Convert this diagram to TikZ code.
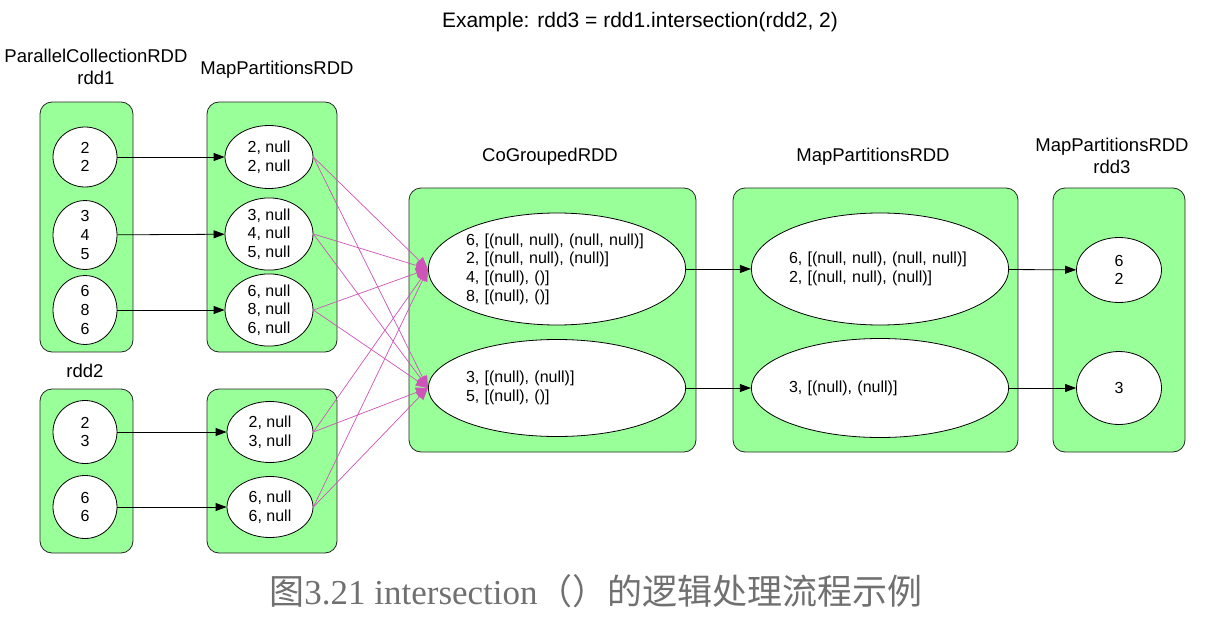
\documentclass[tikz,border=0pt]{standalone}
\usepackage{fontspec}
\setmainfont{Liberation Sans}
\newfontfamily\capserif{Liberation Serif}
\newfontfamily\cjk{Noto Sans CJK SC}
\usetikzlibrary{arrows.meta, shapes.geometric}

\begin{document}
\begin{tikzpicture}[x=1pt,y=-1pt,
  rddbox/.style={draw=black!85, fill=rddgreen, rounded corners=12pt, line width=0.8pt},
  part/.style={ellipse, draw=black, fill=white, inner sep=0pt, align=center, line width=0.8pt, font=\fontsize{16}{18.7}\selectfont},
  bigpart/.style={part, minimum width=251pt, text width=182pt, align=left},
  rddlabel/.style={align=center, font=\fontsize{18.5}{21.5}\selectfont},
  dep/.style={-{Triangle[length=11pt,width=8pt]}, line width=0.8pt, black},
  shuffle/.style={-{Triangle[length=12pt,width=10pt]}, line width=0.7pt, shufflepink}]
  \definecolor{rddgreen}{RGB}{153,255,153}
  \definecolor{shufflepink}{RGB}{206,84,184}
  \definecolor{captiongray}{RGB}{112,112,112}
  \useasboundingbox[fill=white] (0,0) rectangle (1205,621);

  \node[font=\fontsize{21}{24}\selectfont] (title) at (640,22) {Example: rdd3 = rdd1.intersection(rdd2, 2)};

  \draw[rddbox] (40,102) rectangle (133,352);
  \draw[rddbox] (207,102) rectangle (337,352);
  \draw[rddbox] (40,389) rectangle (133,553);
  \draw[rddbox] (207,389) rectangle (337,553);
  \draw[rddbox] (409,188) rectangle (696,452);
  \draw[rddbox] (733,188) rectangle (1018,452);
  \draw[rddbox] (1053,188) rectangle (1185,452);

  \node[rddlabel] (lrddA) at (96,67) {ParallelCollectionRDD\\rdd1};
  \node[rddlabel] (lmapA) at (277,70) {MapPartitionsRDD};
  \node[rddlabel] (lrddB) at (85,371) {rdd2};
  \node[rddlabel] (lcog) at (550,157) {CoGroupedRDD};
  \node[rddlabel] (lmapC) at (873,157) {MapPartitionsRDD};
  \node[rddlabel] (lrddC) at (1112,156) {MapPartitionsRDD\\rdd3};

  \node[part, minimum width=64pt, minimum height=60pt] (a1) at (85,157) {2\\2};
  \node[part, minimum width=64pt, minimum height=66pt] (a2) at (85,235) {3\\4\\5};
  \node[part, minimum width=64pt, minimum height=66pt] (a3) at (85,310) {6\\8\\6};
  \node[part, minimum width=88pt, minimum height=63pt] (ma1) at (269,157) {2, null\\2, null};
  \node[part, minimum width=88pt, minimum height=63pt] (ma2) at (269,234) {3, null\\4, null\\5, null};
  \node[part, minimum width=88pt, minimum height=64pt] (ma3) at (269,310) {6, null\\8, null\\6, null};

  \node[part, minimum width=64pt, minimum height=63pt] (b1) at (85,432) {2\\3};
  \node[part, minimum width=64pt, minimum height=63pt] (b2) at (85,507) {6\\6};
  \node[part, minimum width=86pt, minimum height=61pt] (mb1) at (270,432) {2, null\\3, null};
  \node[part, minimum width=86pt, minimum height=61pt] (mb2) at (270,507) {6, null\\6, null};

  \node[bigpart, minimum height=112pt] (cg1) at (557,269) {6, [(null, null), (null, null)]\\2, [(null, null), (null)]\\4, [(null), ()]\\8, [(null), ()]};
  \node[bigpart, minimum height=97pt] (cg2) at (557,388) {3, [(null), (null)]\\5, [(null), ()]};

  \node[bigpart, minimum height=112pt] (mc1) at (880,269) {6, [(null, null), (null, null)]\\2, [(null, null), (null)]};
  \node[bigpart, minimum height=99pt] (mc2) at (880,388) {3, [(null), (null)]};

  \node[part, minimum width=85pt, minimum height=65pt] (c1) at (1119,270) {6\\2};
  \node[part, minimum width=85pt, minimum height=73pt] (c2) at (1119,388) {3};

  \draw[dep] (a1) -- (ma1);
  \draw[dep] (a2) -- (ma2);
  \draw[dep] (a3) -- (ma3);
  \draw[dep] (b1) -- (mb1);
  \draw[dep] (b2) -- (mb2);
  \foreach \src in {ma1,ma2,ma3,mb1,mb2} {
    \draw[shuffle] (\src.east) -- (cg1.west);
    \draw[shuffle] (\src.east) -- (cg2.west);
  }
  \draw[dep] (cg1) -- (mc1);
  \draw[dep] (cg2) -- (mc2);
  \draw[dep] (mc1) -- (c1);
  \draw[dep] (mc2) -- (c2);

  \node[captiongray, font=\fontsize{35}{38}\selectfont] (caption) at (596,591) {{\cjk 图}{\capserif 3.21 intersection}{\cjk （）的逻辑处理流程示例}};
\end{tikzpicture}
\end{document}
